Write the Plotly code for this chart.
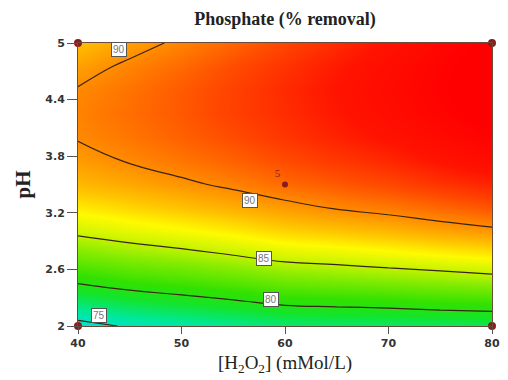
import plotly.graph_objects as go

# Factor grid
h2o2 = [40, 45, 50, 55, 60, 65, 70, 75, 80]
ph = [2.0, 2.25, 2.5, 2.75, 3.0, 3.25, 3.5, 3.75, 4.0, 4.25, 4.5, 4.75, 5.0]

# Phosphate % removal, rows = pH, columns = H2O2
removal = [
    [74.2, 75.25, 75.9, 76.5, 77.2, 77.4, 77.5, 77.7, 77.9],
    [77.6, 78.5, 79.1, 79.7, 80.4, 80.6, 80.8, 81.1, 81.3],
    [80.6, 81.4, 81.9, 82.5, 83.2, 83.5, 83.8, 84.1, 84.45],
    [83.2, 83.9, 84.4, 85.0, 85.7, 86.0, 86.4, 86.8, 87.2],
    [85.4, 86.0, 86.55, 87.1, 87.8, 88.2, 88.6, 89.15, 89.6],
    [87.2, 87.75, 88.3, 88.9, 89.5, 90.1, 90.55, 91.1, 91.7],
    [88.6, 89.1, 89.7, 90.3, 91.0, 91.55, 92.1, 92.8, 93.4],
    [89.5, 90.1, 90.7, 91.3, 92.0, 92.7, 93.3, 94.1, 94.8],
    [90.1, 90.7, 91.35, 92.0, 92.8, 93.5, 94.2, 95.0, 95.8],
    [90.3, 90.95, 91.6, 92.4, 93.1, 93.9, 94.7, 95.6, 96.5],
    [90.1, 90.8, 91.55, 92.35, 93.2, 94.05, 94.9, 95.85, 96.8],
    [89.4, 90.3, 91.1, 92.0, 92.9, 93.8, 94.7, 95.7, 96.7],
    [88.4, 89.4, 90.3, 91.2, 92.2, 93.2, 94.2, 95.3, 96.35],
]

# Contour levels and their label positions
levels = [75, 80, 85, 90]
label_text = ["90", "90", "85", "80", "75"]
label_x = [44.0, 56.6, 58.0, 58.6, 42.0]
label_y = [4.93, 3.335, 2.72, 2.285, 2.116]

# Design points
design_x = [40, 40, 80, 80]
design_y = [2, 5, 2, 5]
center_x = [60]
center_y = [3.5]
center_reps = ["5"]

x_ticks = [40, 50, 60, 70, 80]
y_ticks = [2, 2.6, 3.2, 3.8, 4.4, 5]
y_ticktext = ["2", "2.6", "3.2", "3.8", "4.4", "5"]

zmin, zmax = 74.0, 96.0
stops = [
    (74.0, "rgb(0,225,225)"),
    (76.5, "rgb(0,232,150)"),
    (79.0, "rgb(20,228,40)"),
    (81.0, "rgb(50,225,0)"),
    (83.5, "rgb(130,235,0)"),
    (85.5, "rgb(210,245,0)"),
    (86.8, "rgb(255,250,0)"),
    (88.3, "rgb(255,195,0)"),
    (90.0, "rgb(255,140,0)"),
    (92.0, "rgb(255,75,0)"),
    (94.0, "rgb(255,20,0)"),
    (96.0, "rgb(255,0,0)"),
]
colorscale = [[(v - zmin) / (zmax - zmin), c] for v, c in stops]

fig = go.Figure()
fig.add_trace(go.Heatmap(
    x=h2o2, y=ph, z=removal, zsmooth="best",
    colorscale=colorscale, zmin=zmin, zmax=zmax, showscale=False,
    hoverinfo="skip",
))
fig.add_trace(go.Contour(
    x=h2o2, y=ph, z=removal,
    contours=dict(coloring="none", start=levels[0], end=levels[-1],
                  size=levels[1] - levels[0], showlabels=False),
    line=dict(color="#3a2410", width=1.2, smoothing=1.3),
    showscale=False, hoverinfo="skip",
))
fig.add_trace(go.Scatter(
    x=design_x, y=design_y, mode="markers",
    marker=dict(color="#8a1c1c", size=8), cliponaxis=False, hoverinfo="skip",
))
fig.add_trace(go.Scatter(
    x=center_x, y=center_y, mode="markers+text", text=center_reps,
    textposition="top left", textfont=dict(size=11, color="#8a1c1c", family="Liberation Serif"),
    marker=dict(color="#8a1c1c", size=6), hoverinfo="skip",
))

for t, lx, ly in zip(label_text, label_x, label_y):
    fig.add_annotation(
        x=lx, y=ly, text=t, showarrow=False,
        font=dict(size=10, color="#777", family="Liberation Sans"),
        bgcolor="white", bordercolor="#555", borderwidth=1, borderpad=1,
    )

fig.update_layout(
    width=508, height=380,
    margin=dict(l=78, r=8, t=43, b=54),
    paper_bgcolor="white", plot_bgcolor="white",
    showlegend=False,
    title=dict(text="<b>Phosphate (% removal)</b>", x=0.5, xref="paper",
               y=0.95, yanchor="middle",
               font=dict(family="Liberation Serif", size=18, color="#222")),
    xaxis=dict(range=[40, 80], tickvals=x_ticks, ticks="outside", ticklen=7,
               tickcolor="#555", showgrid=False, zeroline=False,
               showline=True, linecolor="#6b4a3a", linewidth=1, mirror=True,
               tickfont=dict(family="DejaVu Sans", size=11, color="#333", weight="bold"),
               title=dict(text="[H<sub>2</sub>O<sub>2</sub>] (mMol/L)", standoff=6,
                          font=dict(family="Liberation Serif", size=19, color="#222"))),
    yaxis=dict(range=[2, 5], tickvals=y_ticks, ticktext=y_ticktext, ticks="outside",
               ticklen=10, tickcolor="#555", showgrid=False, zeroline=False,
               showline=True, linecolor="#6b4a3a", linewidth=1, mirror=True,
               tickfont=dict(family="DejaVu Sans", size=11, color="#333", weight="bold"),
               title=dict(text="<b>pH</b>", standoff=8,
                          font=dict(family="Liberation Serif", size=21, color="#222"))),
)

fig.write_html("out.html")
